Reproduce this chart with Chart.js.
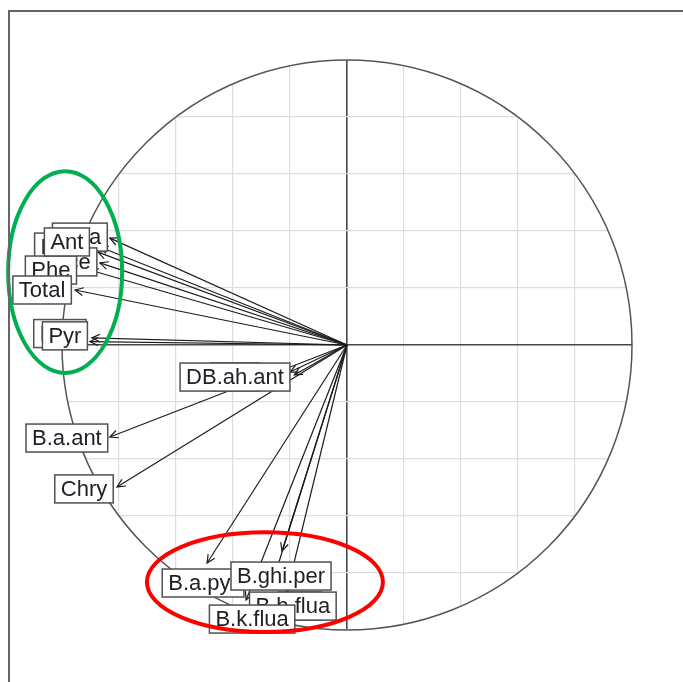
<!DOCTYPE html>
<html>
<head>
<meta charset="utf-8">
<script src="https://cdn.jsdelivr.net/npm/chart.js@4.4.1/dist/chart.umd.min.js"></script>
<style>
  html, body { margin: 0; padding: 0; background: #ffffff; }
  #wrap { width: 683px; height: 682px; position: relative; }
</style>
</head>
<body>
<div id="wrap"><canvas id="pcaVars"></canvas></div>
<script>
// Variable coordinates on the first two principal components (correlation circle).
// Listed in label drawing order (later labels sit on top of earlier ones).
const variables = ['Flua', 'Flu', 'Ace', 'Phe', 'Ant', 'Total', 'Nap', 'Pyr',
                   'Acy', 'DB.ah.ant', 'B.a.ant', 'Chry', 'Ind', 'B.a.pyr',
                   'B.b.flua', 'B.ghi.per', 'B.k.flua'];
const dim1 = [-0.832, -0.874, -0.867, -0.902, -0.867, -0.954, -0.902, -0.895,
              -0.185, -0.200, -0.832, -0.807, -0.253, -0.491,
              -0.211, -0.228, -0.354];
const dim2 = [ 0.375,  0.326,  0.288,  0.263,  0.344,  0.193,  0.012,  0.025,
              -0.105, -0.095, -0.323, -0.498, -0.807, -0.765,
              -0.867, -0.723, -0.895];

// Grid values for both axes
const gridTicks = [-1, -0.8, -0.6, -0.4, -0.2, 0, 0.2, 0.4, 0.6, 0.8, 1];

// Visible axis window
const xRange = [-1.2175, 1.1789];
const yRange = [-1.1825, 1.2105];

// Repelled label placement: offset (px) of each label box centre from its arrow tip
const labelNudge = [[-30, -1], [-42, -5], [-28, -1], [-39, 0], [-33, -5], [-33, 0], [-30, -8], [-27, -2],
                    [-59, 2], [-55, 5], [-43, 1], [-33, 2], [25, 31], [-4, 20],
                    [6, 14], [-1, 25], [6, 19]];

// Highlighted variable groups (ellipses, data units)
const groupCx = [-0.989, -0.288];
const groupCy = [0.256, -0.832];
const groupRx = [0.200, 0.414];
const groupRy = [0.354, 0.175];
const groupColour = ['#00b04f', '#ff0000'];

const LABEL_FONT = '22px "Liberation Sans", Arial, sans-serif';

function circleGeom(chart) {
  const xs = chart.scales.x, ys = chart.scales.y;
  const cx = xs.getPixelForValue(0);
  const cy = ys.getPixelForValue(0);
  const r = xs.getPixelForValue(1) - cx;
  return { cx, cy, r };
}

const pcaPlugin = {
  id: 'pcaCircle',
  beforeDraw(chart) {
    // grid lines are only shown inside the unit circle
    const { ctx } = chart;
    const g = circleGeom(chart);
    ctx.save();
    ctx.beginPath();
    ctx.arc(g.cx, g.cy, g.r, 0, Math.PI * 2);
    ctx.clip();
  },
  beforeDatasetsDraw(chart) {
    const { ctx } = chart;
    ctx.restore();
    const g = circleGeom(chart);
    ctx.save();
    ctx.strokeStyle = '#555555';
    ctx.lineWidth = 1.5;
    ctx.beginPath();
    ctx.arc(g.cx, g.cy, g.r, 0, Math.PI * 2);
    ctx.stroke();
    ctx.restore();
  },
  afterDatasetsDraw(chart) {
    const { ctx } = chart;
    const xs = chart.scales.x, ys = chart.scales.y;

    // open arrowheads at each tip
    ctx.save();
    ctx.strokeStyle = '#1c1c1c';
    ctx.lineWidth = 1.2;
    chart.data.datasets.forEach((ds, i) => {
      const meta = chart.getDatasetMeta(i);
      const p0 = meta.data[0], p1 = meta.data[1];
      const ang = Math.atan2(p1.y - p0.y, p1.x - p0.x);
      const len = 9, spread = Math.PI / 7;
      ctx.beginPath();
      ctx.moveTo(p1.x - len * Math.cos(ang - spread), p1.y - len * Math.sin(ang - spread));
      ctx.lineTo(p1.x, p1.y);
      ctx.lineTo(p1.x - len * Math.cos(ang + spread), p1.y - len * Math.sin(ang + spread));
      ctx.stroke();
    });
    ctx.restore();

    // boxed labels
    ctx.save();
    ctx.font = LABEL_FONT;
    ctx.textAlign = 'center';
    ctx.textBaseline = 'middle';
    chart.data.datasets.forEach((ds, i) => {
      const tip = chart.getDatasetMeta(i).data[1];
      const lx = tip.x + labelNudge[i][0];
      const ly = tip.y + labelNudge[i][1];
      const w = ctx.measureText(variables[i]).width + 12;
      const h = 28;
      ctx.fillStyle = '#ffffff';
      ctx.fillRect(lx - w / 2, ly - h / 2, w, h);
      ctx.strokeStyle = '#505050';
      ctx.lineWidth = 1.5;
      ctx.strokeRect(lx - w / 2, ly - h / 2, w, h);
      ctx.fillStyle = '#202028';
      ctx.fillText(variables[i], lx, ly + 1);
    });
    ctx.restore();

    // group ellipses
    ctx.save();
    ctx.lineWidth = 4;
    const unit = xs.getPixelForValue(1) - xs.getPixelForValue(0);
    groupCx.forEach((gx, k) => {
      ctx.strokeStyle = groupColour[k];
      ctx.beginPath();
      ctx.ellipse(xs.getPixelForValue(gx), ys.getPixelForValue(groupCy[k]),
                  groupRx[k] * unit, groupRy[k] * unit, 0, 0, Math.PI * 2);
      ctx.stroke();
    });
    ctx.restore();

    // outer frame
    ctx.save();
    ctx.strokeStyle = '#666666';
    ctx.lineWidth = 2;
    ctx.strokeRect(9, 11, 720, 720);
    ctx.restore();
  }
};

const datasets = variables.map((name, i) => ({
  label: name,
  data: [{ x: 0, y: 0 }, { x: dim1[i], y: dim2[i] }],
  showLine: true,
  borderColor: '#1c1c1c',
  borderWidth: 1.2,
  pointRadius: 0,
  fill: false
}));

const gridScale = (range) => ({
  type: 'linear',
  min: range[0],
  max: range[1],
  afterBuildTicks: (axis) => { axis.ticks = gridTicks.map(v => ({ value: v })); },
  ticks: { display: false },
  border: { display: false },
  grid: {
    drawTicks: false,
    tickLength: 0,
    color: (c) => (c.tick && c.tick.value === 0 ? '#474747' : '#dddddd'),
    lineWidth: (c) => (c.tick && c.tick.value === 0 ? 1.6 : 1.2)
  }
});

new Chart(document.getElementById('pcaVars'), {
  type: 'scatter',
  data: { datasets },
  options: {
    responsive: true,
    maintainAspectRatio: false,
    animation: false,
    layout: { padding: 0 },
    plugins: { legend: { display: false }, tooltip: { enabled: false } },
    scales: { x: gridScale(xRange), y: gridScale(yRange) }
  },
  plugins: [pcaPlugin]
});
</script>
</body>
</html>
